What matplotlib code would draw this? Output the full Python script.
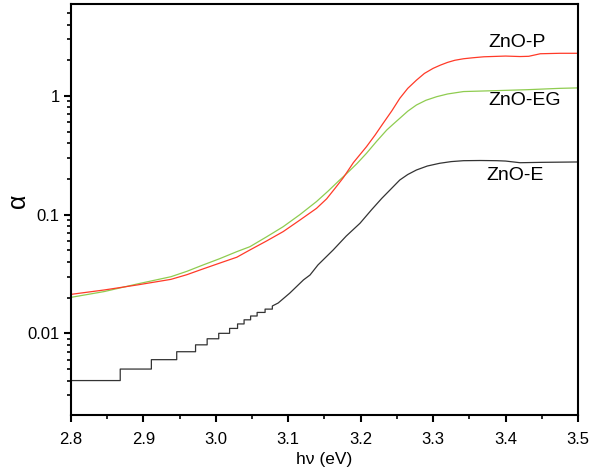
import matplotlib
matplotlib.use("Agg")
import matplotlib.pyplot as plt
from matplotlib.ticker import LogLocator, MultipleLocator, FixedLocator, NullFormatter

plt.rcParams['font.family'] = ['Liberation Sans', 'DejaVu Sans']

# ZnO-P (red)
p_x = [2.800, 2.846, 2.892, 2.938, 2.960, 2.980, 3.005, 3.029, 3.047, 3.070, 3.093, 3.116,
       3.139, 3.153, 3.165, 3.176, 3.190, 3.208, 3.220, 3.231, 3.243, 3.254, 3.265,
       3.277, 3.288, 3.300, 3.310, 3.320, 3.330, 3.342, 3.355, 3.370, 3.400, 3.420,
       3.432, 3.448, 3.475, 3.500]
p_y = [0.0213, 0.0232, 0.0256, 0.0285, 0.0312, 0.0345, 0.0390, 0.0438, 0.0504, 0.060, 0.072, 0.090,
       0.113, 0.136, 0.168, 0.205, 0.275, 0.374, 0.470, 0.589, 0.750, 0.956, 1.16,
       1.36, 1.55, 1.71, 1.82, 1.92, 2.00, 2.06, 2.10, 2.14, 2.17, 2.15,
       2.16, 2.27, 2.29, 2.29]

# ZnO-EG (green)
eg_x = [2.800, 2.846, 2.892, 2.938, 2.960, 2.980, 3.005, 3.029, 3.047, 3.070, 3.093, 3.116,
        3.139, 3.155, 3.171, 3.181, 3.195, 3.208, 3.222, 3.236, 3.245, 3.254, 3.265,
        3.277, 3.290, 3.305, 3.320, 3.342, 3.365, 3.388, 3.430, 3.475, 3.500]
eg_y = [0.0201, 0.0225, 0.0261, 0.0300, 0.0333, 0.0372, 0.0425, 0.0488, 0.0537, 0.065, 0.0792, 0.100,
        0.129, 0.158, 0.196, 0.223, 0.270, 0.329, 0.415, 0.517, 0.580, 0.649, 0.745,
        0.840, 0.920, 0.987, 1.04, 1.09, 1.10, 1.11, 1.13, 1.16, 1.17]

# ZnO-E (black), quantised steps at low values
e_x = [2.800, 2.868, 2.868, 2.911, 2.911, 2.946, 2.946, 2.972, 2.972, 2.988, 2.988,
       3.004, 3.004, 3.019, 3.019, 3.030, 3.030, 3.039, 3.039, 3.048, 3.048, 3.057,
       3.057, 3.068, 3.068, 3.078, 3.078, 3.086,
       3.102, 3.121, 3.130, 3.141, 3.162, 3.180, 3.199, 3.215, 3.229, 3.242, 3.254,
       3.265, 3.277, 3.292, 3.309, 3.325, 3.342, 3.365, 3.388, 3.400, 3.420, 3.450, 3.500]
e_y = [0.004, 0.004, 0.005, 0.005, 0.006, 0.006, 0.007, 0.007, 0.008, 0.008, 0.009,
       0.009, 0.010, 0.010, 0.011, 0.011, 0.012, 0.012, 0.013, 0.013, 0.014, 0.014,
       0.015, 0.015, 0.016, 0.016, 0.017, 0.018,
       0.0218, 0.0282, 0.031, 0.0377, 0.0504, 0.066, 0.0846, 0.110, 0.137, 0.165, 0.196,
       0.218, 0.238, 0.257, 0.271, 0.280, 0.285, 0.286, 0.285, 0.283, 0.274, 0.276, 0.278]

labels = ['ZnO-P', 'ZnO-EG', 'ZnO-E']
label_x = [3.376, 3.376, 3.374]
label_y = [2.85, 0.908, 0.212]

fig = plt.figure(figsize=(5.89, 4.70), dpi=100)
ax = fig.add_axes([0.1205, 0.117, 0.8608, 0.8745])

ax.plot(e_x, e_y, color='#333333', lw=0.9)
ax.plot(eg_x, eg_y, color='#8fcc50', lw=0.9)
ax.plot(p_x, p_y, color='#ff3a28', lw=0.9)

ax.set_yscale('log')
ax.set_xlim(2.8, 3.5)
ax.set_ylim(0.00205, 5.96)

ax.xaxis.set_major_locator(MultipleLocator(0.1))
ax.xaxis.set_minor_locator(MultipleLocator(0.05))
ax.xaxis.set_major_formatter(plt.FuncFormatter(lambda v, p: f"{v:.1f}"))
ax.yaxis.set_major_locator(FixedLocator([0.01, 0.1, 1]))
ax.yaxis.set_major_formatter(plt.FuncFormatter(lambda v, p: {0.01: '0.01', 0.1: '0.1', 1: '1'}.get(round(v, 4), '')))
ax.yaxis.set_minor_locator(LogLocator(base=10, subs=[2, 3, 4, 5, 6, 7, 8, 9], numticks=20))
ax.yaxis.set_minor_formatter(NullFormatter())

for s in ax.spines.values():
    s.set_linewidth(1.5)

ax.tick_params(axis='both', which='major', direction='out', length=5, width=1.5,
               labelsize=12, top=False, right=False)
ax.tick_params(axis='both', which='minor', direction='out', length=3, width=1.2,
               top=False, right=False)
ax.tick_params(axis='x', which='major', pad=7)
ax.tick_params(axis='y', which='major', pad=3)

ax.set_xlabel('h\u03bd (eV)', fontsize=12.5, labelpad=4)
ax.set_ylabel('\u03b1', fontsize=18, va='center', ha='center')
ax.yaxis.set_label_coords(-0.105, 0.52)

for t, x, y in zip(labels, label_x, label_y):
    ax.text(x, y, t, fontsize=14, ha='left', va='center')

fig.savefig('out.png', dpi=100)
